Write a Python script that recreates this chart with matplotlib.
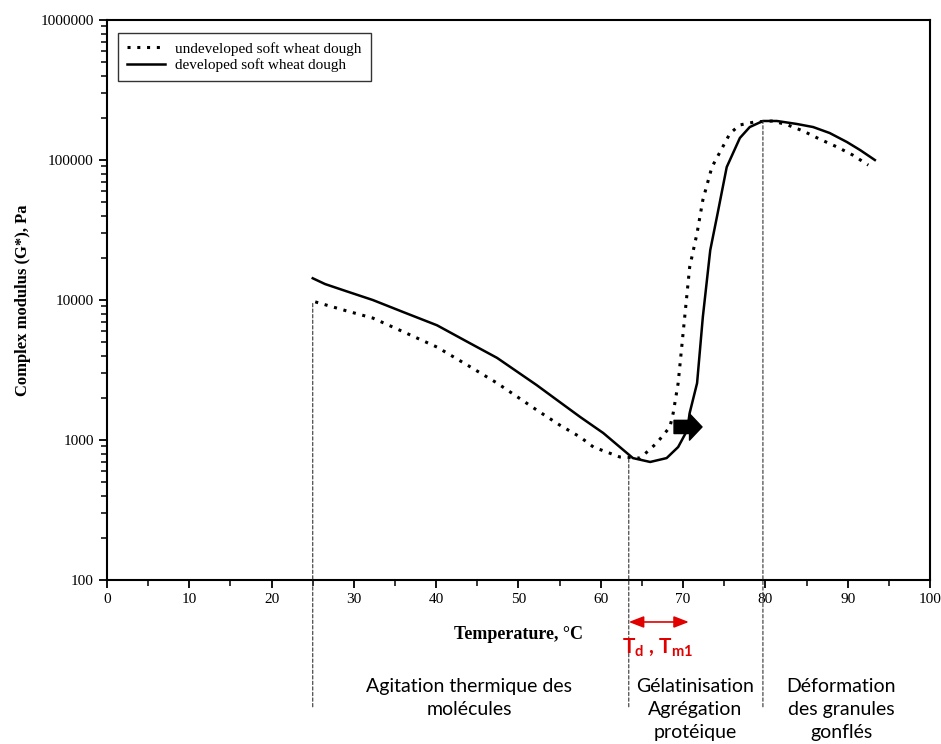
import matplotlib.pyplot as plt
from matplotlib.ticker import LogLocator, NullFormatter

# --- data ---
temp_dev = [25.0, 26.5, 29.0, 32.3, 36.0, 40.1, 44.0, 47.4, 52.2, 55.0, 57.5, 60.3,
            63.9, 66.0, 68.0, 69.4, 70.5, 70.8, 71.7, 72.4, 73.3, 74.2, 75.3, 76.9,
            78.1, 79.7, 81.4, 83.8, 85.8, 87.8, 89.9, 91.5, 93.3]
g_dev = [14300, 13000, 11600, 10000, 8200, 6600, 4950, 3860, 2470, 1870, 1460, 1122,
         743, 697, 743, 891, 1175, 1560, 2550, 7570, 22700, 41700, 89000, 143700,
         172000, 190000, 190000, 181000, 172000, 156000, 134500, 117900, 100000]

temp_undev = [25.3, 29.0, 32.3, 36.0, 40.1, 44.0, 47.4, 52.2, 55.0, 57.5, 59.1, 62.3,
              64.8, 66.8, 68.4, 68.8, 69.4, 70.0, 70.8, 71.7, 72.4, 73.5, 75.7, 76.9,
              78.7, 80.9, 82.7, 84.6, 86.6, 88.7, 90.6, 92.5]
g_undev = [9700, 8400, 7430, 5930, 4610, 3370, 2550, 1640, 1280, 1050, 891, 757,
           743, 952, 1240, 1560, 2550, 5800, 17200, 30100, 51800, 89000, 155000, 178000,
           187000, 190000, 178000, 161000, 141000, 124000, 108600, 92000]

x_ticks = [0, 10, 20, 30, 40, 50, 60, 70, 80, 90, 100]
y_ticks = [100, 1000, 10000, 100000, 1000000]
y_labels = ['100', '1000', '10000', '100000', '1000000']

# marker lines: (temperature, top value)
markers = [(25.0, 9700), (63.4, 740), (79.7, 190000)]

zones = ['Agitation thermique des\nmolécules',
         'Gélatinisation\nAgrégation\nprotéique',
         'Déformation\ndes granules\ngonflés']
zone_x = [44.0, 71.5, 89.2]

serif = 'Liberation Serif'
sans = 'Lato'

fig = plt.figure(figsize=(9.41, 7.44), dpi=100)
ax = fig.add_axes([0.1137, 0.2204, 0.8746, 0.7527])

ax.plot(temp_undev, g_undev, color='black', linestyle=(0, (1, 2.2)), linewidth=2.2,
        label='undeveloped soft wheat dough')
ax.plot(temp_dev, g_dev, color='black', linewidth=1.8, label='developed soft wheat dough')

ax.set_yscale('log')
ax.set_xlim(0, 100)
ax.set_ylim(100, 1000000)

ax.set_xticks(x_ticks)
ax.set_xticklabels([str(t) for t in x_ticks], fontfamily=serif, fontsize=11)
ax.set_xticks(range(5, 100, 10), minor=True)
ax.set_yticks(y_ticks)
ax.set_yticklabels(y_labels, fontfamily=serif, fontsize=11)
ax.yaxis.set_minor_locator(LogLocator(base=10, subs=range(2, 10)))
ax.yaxis.set_minor_formatter(NullFormatter())
ax.tick_params(axis='both', which='major', direction='out', length=6, width=1.3)
ax.tick_params(axis='both', which='minor', direction='out', length=4, width=1.1)
for s in ax.spines.values():
    s.set_linewidth(1.5)

ax.set_xlabel('Temperature, °C', fontfamily=serif, fontweight='bold', fontsize=13,
              labelpad=14)
ax.set_ylabel('Complex modulus (G*), Pa', fontfamily=serif, fontweight='bold',
              fontsize=12, labelpad=7)

leg = ax.legend(loc='upper left', bbox_to_anchor=(0.013, 0.977), borderaxespad=0,
                fancybox=False, edgecolor='black', handlelength=2.5, handletextpad=0.65,
                borderpad=0.6, labelspacing=0.15, prop={'family': serif, 'size': 11})
leg.get_frame().set_linewidth(1.0)

# vertical dashed guides down to the zone labels
for t, top in markers:
    ax.annotate('', xy=(t, top), xycoords='data',
                xytext=(t, 0.05), textcoords=('data', 'figure fraction'),
                arrowprops=dict(arrowstyle='-', linestyle=(0, (3, 2)), linewidth=0.8,
                                color='#333333', shrinkA=0, shrinkB=0),
                annotation_clip=False)

# black block arrow on the developed curve
ax.annotate('', xy=(72.3, 1240), xytext=(68.9, 1240),
            arrowprops=dict(arrowstyle='simple,head_width=1.9,head_length=0.9,tail_width=0.95',
                            color='black', shrinkA=0, shrinkB=0))

# red Td / Tm1 range below the axis
ax.annotate('', xy=(70.7, 0.164), xycoords=('data', 'figure fraction'),
            xytext=(63.4, 0.164), textcoords=('data', 'figure fraction'),
            arrowprops=dict(arrowstyle='<|-|>,head_width=0.35,head_length=0.9',
                            color='#e00000', linewidth=1.2, shrinkA=0, shrinkB=0),
            annotation_clip=False)
ax.annotate(r'T$_\mathregular{d}$ , T$_\mathregular{m1}$', xy=(66.9, 0.129),
            xycoords=('data', 'figure fraction'), fontfamily=sans, fontweight='bold',
            fontsize=15, color='#e00000', ha='center', va='center',
            annotation_clip=False)

for label, zx in zip(zones, zone_x):
    ax.annotate(label, xy=(zx, 0.089), xycoords=('data', 'figure fraction'),
                fontfamily=sans, fontsize=14, ha='center', va='top', linespacing=1.42,
                annotation_clip=False)

fig.savefig('out.png', dpi=100)
